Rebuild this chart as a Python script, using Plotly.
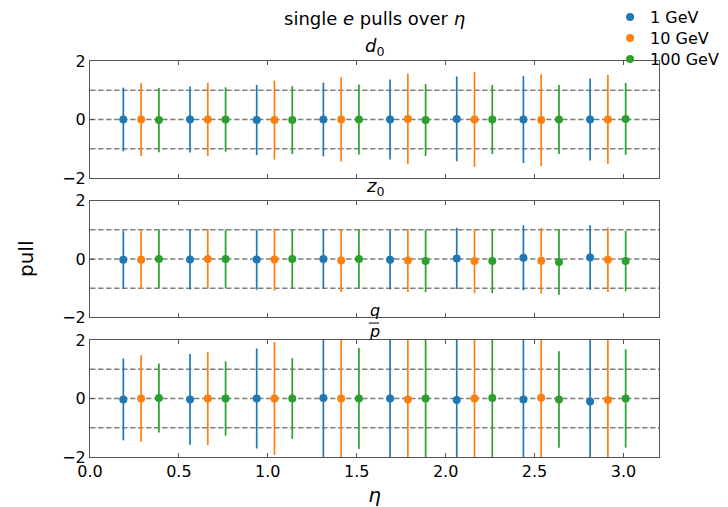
import plotly.graph_objects as go
from plotly.subplots import make_subplots

eta_centers = [0.1875, 0.5625, 0.9375, 1.3125, 1.6875, 2.0625, 2.4375, 2.8125]
energies = ["1 GeV", "10 GeV", "100 GeV"]
colors = ["#1f77b4", "#ff7f0e", "#2ca02c"]
offsets = [0.0, 0.1, 0.2]

# d0 pulls: mean and width per energy
d0_mean = [
    [0.00, 0.00, -0.02, 0.00, 0.00, 0.02, 0.00, 0.00],
    [0.00, 0.00, -0.02, 0.00, 0.02, 0.00, -0.02, 0.00],
    [-0.02, 0.00, -0.02, 0.00, -0.02, 0.00, 0.00, 0.02],
]
d0_err = [
    [1.09, 1.13, 1.20, 1.26, 1.37, 1.45, 1.49, 1.40],
    [1.25, 1.25, 1.35, 1.44, 1.55, 1.62, 1.57, 1.52],
    [1.10, 1.10, 1.16, 1.20, 1.23, 1.18, 1.18, 1.23],
]
# z0 pulls
z0_mean = [
    [-0.03, -0.02, -0.02, 0.00, -0.03, 0.02, 0.04, 0.05],
    [-0.03, 0.00, -0.02, -0.05, -0.05, -0.07, -0.06, -0.03],
    [0.00, 0.00, 0.00, 0.00, -0.07, -0.07, -0.10, -0.07],
]
z0_err = [
    [1.00, 1.02, 1.03, 1.02, 1.01, 1.05, 1.11, 1.10],
    [1.00, 1.02, 1.06, 1.08, 1.08, 1.10, 1.12, 1.10],
    [1.00, 1.00, 1.00, 1.02, 1.07, 1.10, 1.12, 1.03],
]
# q/p pulls
qp_mean = [
    [-0.03, -0.03, 0.00, 0.02, 0.00, -0.05, -0.03, -0.10],
    [0.00, 0.00, 0.00, 0.00, -0.03, 0.00, 0.03, -0.05],
    [0.02, 0.00, 0.00, 0.00, 0.00, 0.02, -0.03, 0.00],
]
qp_err = [
    [1.40, 1.55, 1.71, 2.30, 2.40, 2.50, 2.60, 2.70],
    [1.48, 1.59, 1.93, 2.50, 2.60, 2.70, 2.80, 2.90],
    [1.18, 1.27, 1.38, 1.73, 2.20, 2.30, 1.65, 1.68],
]

panels = [(d0_mean, d0_err), (z0_mean, z0_err), (qp_mean, qp_err)]
legend_ids = ["legend", "legend2", "legend3"]

fig = make_subplots(rows=3, cols=1, shared_xaxes=True, vertical_spacing=0.057)

for row, (means, errs) in enumerate(panels, start=1):
    sfx = "" if row == 1 else str(row)
    for yv in (-1, 0, 1):
        fig.add_shape(type="line", xref=f"x{sfx} domain", yref=f"y{sfx}",
                      x0=0, x1=1, y0=yv, y1=yv, layer="below",
                      line=dict(color="#808080", width=1.4, dash="5.5px,2.5px"))
    for k in range(3):
        fig.add_trace(
            go.Scatter(
                x=[e + offsets[k] for e in eta_centers],
                y=means[k],
                mode="markers",
                name=energies[k],
                legendgroup=energies[k],
                legend=legend_ids[k],
                showlegend=(row == 1),
                marker=dict(color=colors[k], size=8),
                error_y=dict(type="data", array=errs[k], visible=True,
                             color=colors[k], thickness=1.7, width=0),
            ),
            row=row, col=1,
        )

axis_common = dict(showline=True, linecolor="#555", linewidth=1, mirror="ticks",
                   ticks="inside", ticklen=4, tickcolor="#555", showgrid=False,
                   zeroline=False, automargin=False,
                   tickfont=dict(size=16, color="black"))

for row in range(1, 4):
    fig.update_xaxes(range=[0, 3.2], tickvals=[0, 0.5, 1, 1.5, 2, 2.5, 3],
                     ticktext=["0.0", "0.5", "1.0", "1.5", "2.0", "2.5", "3.0"],
                     showticklabels=(row == 3), row=row, col=1, **axis_common)
    fig.update_yaxes(range=[-2, 2], tickvals=[-2, 0, 2], row=row, col=1, **axis_common)

fig.update_xaxes(title=dict(text="<i>η</i>", font=dict(size=20, color="black"), standoff=9),
                 row=3, col=1)

annotations = [
    dict(text="single <i>e</i> pulls over <i>η</i>", x=0.5, y=1.0, xref="paper", yref="paper",
         yanchor="middle", yshift=43, showarrow=False, font=dict(size=18, color="black")),
    dict(text="<i>d</i><sub>0</sub>", x=0.5, y=1.0, xref="paper", yref="y domain",
         yanchor="bottom", yshift=0, showarrow=False, font=dict(size=18, color="black")),
    dict(text="<i>z</i><sub>0</sub>", x=0.5, y=1.0, xref="paper", yref="y2 domain",
         yanchor="bottom", yshift=0, showarrow=False, font=dict(size=18, color="black")),
    dict(text="<i>q</i>", x=0.5, y=1.0, xref="paper", yref="y3 domain",
         yanchor="middle", yshift=30, showarrow=False, font=dict(size=16, color="black")),
    dict(text="<i>p</i>", x=0.5, y=1.0, xref="paper", yref="y3 domain",
         yanchor="middle", yshift=9, showarrow=False, font=dict(size=16, color="black")),
    dict(text="pull", x=0, y=0.5, xref="paper", yref="paper", xanchor="center",
         xshift=-64, textangle=-90, showarrow=False, font=dict(size=20, color="black")),
]
fig.update_layout(annotations=annotations)
fig.add_shape(type="line", xref="paper", yref="y3 domain", x0=0.490, x1=0.508,
              y0=17, y1=17, ysizemode="pixel", yanchor=1.0,
              line=dict(color="black", width=1))

legend_centers_px = [17, 38, 59]
legend_style = dict(xref="container", yref="container", x=0.838,
                    xanchor="left", yanchor="middle",
                    bgcolor="rgba(0,0,0,0)", font=dict(size=16), itemwidth=30)
fig.update_layout(
    width=728, height=507,
    margin=dict(l=90, r=69, t=61, b=50, autoexpand=False),
    plot_bgcolor="white", paper_bgcolor="white",
    font=dict(family="DejaVu Sans", color="black"),
    showlegend=True,
    legend=dict(y=1 - legend_centers_px[0] / 507, **legend_style),
    legend2=dict(y=1 - legend_centers_px[1] / 507, **legend_style),
    legend3=dict(y=1 - legend_centers_px[2] / 507, **legend_style),
)

fig.write_html("out.html")
